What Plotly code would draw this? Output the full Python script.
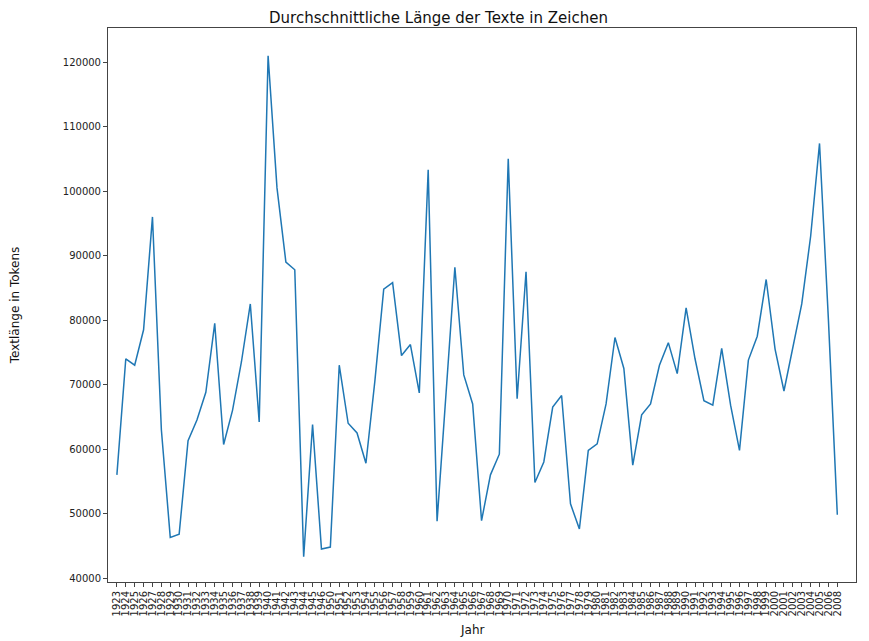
import plotly.graph_objects as go

# Jahre (1947-1949 und 2007 fehlen im Original)
years = list(range(1923, 1947)) + list(range(1950, 2007)) + [2008]

avg_length = [
    56000, 74000, 73000, 78500, 96000, 63000, 46300, 46800, 61300, 64500,
    68800, 79500, 60700, 66000, 73500, 82500, 64200, 121000, 100500, 89000,
    87800, 43300, 63800, 44500, 44800, 73000, 64000, 62500, 57800, 70500,
    84800, 85800, 74500, 76200, 68700, 103300, 48800, 69000, 88200, 71500,
    67000, 48900, 56000, 59200, 105000, 67800, 87500, 54800, 58000, 66500,
    68300, 51500, 47600, 59800, 60800, 67000, 77300, 72500, 57500, 65300,
    67000, 73000, 76500, 71700, 81900, 74000, 67500, 66800, 75600, 66800,
    59800, 73800, 77500, 86300, 75500, 69000, 76000, 82500, 93000, 107400,
    80000, 49800,
]

y_ticks = [40000, 50000, 60000, 70000, 80000, 90000, 100000, 110000, 120000]

pos = list(range(len(years)))

fig = go.Figure()
fig.add_trace(go.Scatter(
    x=pos,
    y=avg_length,
    mode='lines',
    line=dict(color='#1f77b4', width=1.5),
    showlegend=False,
))

axis_common = dict(
    showline=True,
    mirror=True,
    linecolor='#444',
    linewidth=1,
    showgrid=False,
    zeroline=False,
    automargin=False,
    ticks='outside',
    ticklen=4,
    tickcolor='#444',
    tickfont=dict(family='DejaVu Sans', size=10, color='#222'),
)

# page body has an 8px default margin, so size is reduced accordingly
fig.update_layout(
    width=861,
    height=633,
    margin=dict(l=100, r=13, t=20, b=59),
    paper_bgcolor='white',
    plot_bgcolor='white',
    title=dict(
        text='Durchschnittliche Länge der Texte in Zeichen',
        x=0.5, xanchor='center', y=0.984, yanchor='middle',
        font=dict(family='DejaVu Sans', size=15, color='#111'),
    ),
    xaxis=dict(
        **axis_common,
        range=[-1.0, 83.1],
        tickmode='array',
        tickvals=pos,
        ticktext=[str(y) for y in years],
        tickangle=-90,
    ),
    yaxis=dict(
        **axis_common,
        range=[39380, 125300],
        tickmode='array',
        tickvals=y_ticks,
        ticktext=[str(v) for v in y_ticks],
    ),
    annotations=[
        dict(text='Jahr', xref='paper', yref='paper', x=0.487, y=-0.086,
             xanchor='center', yanchor='middle', showarrow=False,
             font=dict(family='DejaVu Sans', size=12, color='#111')),
        dict(text='Textlänge in Tokens', xref='paper', yref='paper',
             x=-0.124, y=0.5, textangle=-90, xanchor='center',
             yanchor='middle', showarrow=False,
             font=dict(family='DejaVu Sans', size=12, color='#111')),
    ],
)

fig.write_html("out.html")
